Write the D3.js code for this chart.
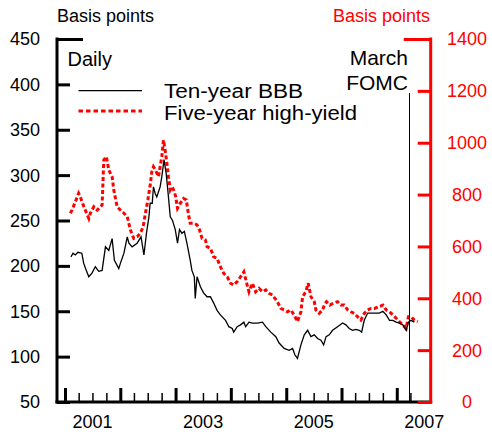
<!DOCTYPE html>
<html>
<head>
<meta charset="utf-8">
<script src="https://cdn.jsdelivr.net/npm/d3@7"></script>
<style>
  html, body { margin: 0; padding: 0; background: #fff; }
  svg { display: block; font-family: "Liberation Sans", Arial, sans-serif; }
</style>
</head>
<body>
<svg id="chart" width="492" height="434"></svg>
<script>
// ---- Data ----
const leftTicks = [50, 100, 150, 200, 250, 300, 350, 400, 450];
const rightTicks = [0, 200, 400, 600, 800, 1000, 1200, 1400];
const yearLabels = [2001, 2003, 2005, 2007];
const legendLabels = ["Ten-year BBB", "Five-year high-yield"];
const fomcDate = "2007-03-23";

// Ten-year BBB spread (left axis, basis points)
const bbbSeries = [
  ["2001-02-09",210],["2001-02-23",214],["2001-03-10",212],["2001-03-27",215],["2001-04-22",214],
  ["2001-05-04",203],["2001-05-19",196],["2001-06-07",188],["2001-06-28",192],["2001-07-20",199],
  ["2001-08-12",194],["2001-09-03",195],["2001-09-25",221],["2001-10-17",217],["2001-11-08",230],
  ["2001-11-23",206],["2001-12-22",197],["2002-01-02",203],["2002-01-25",214],["2002-02-16",232],
  ["2002-02-27",225],["2002-03-20",221],["2002-04-22",225],["2002-05-18",232],["2002-06-06",212],
  ["2002-06-23",236],["2002-07-09",254],["2002-07-17",269],["2002-07-31",269],["2002-08-08",287],
  ["2002-08-19",280],["2002-08-30",276],["2002-09-21",287],["2002-10-02",298],["2002-10-17",317],
  ["2002-10-31",302],["2002-11-15",276],["2002-11-27",254],["2002-12-12",250],["2002-12-30",240],
  ["2003-01-14",225],["2003-01-27",240],["2003-02-12",236],["2003-02-28",238],["2003-03-17",225],
  ["2003-04-08",206],["2003-04-19",195],["2003-05-05",188],["2003-05-11",164],["2003-05-23",188],
  ["2003-06-14",177],["2003-07-06",170],["2003-07-28",166],["2003-08-19",166],["2003-09-10",159],
  ["2003-10-02",151],["2003-10-24",146],["2003-11-27",140],["2003-12-19",133],["2004-01-10",131],
  ["2004-01-20",127],["2004-02-12",133],["2004-03-05",135],["2004-03-27",138],["2004-04-08",133],
  ["2004-04-30",138],["2004-05-22",137],["2004-06-25",137],["2004-07-28",138],["2004-08-19",133],
  ["2004-09-21",127],["2004-10-24",122],["2004-11-15",115],["2004-12-18",109],["2005-01-20",107],
  ["2005-02-12",109],["2005-02-27",102],["2005-03-16",98],["2005-04-08",113],["2005-04-30",124],
  ["2005-05-22",129],["2005-06-13",122],["2005-07-05",124],["2005-07-27",120],["2005-08-18",118],
  ["2005-09-05",113],["2005-09-21",122],["2005-10-12",124],["2005-11-03",129],["2005-12-06",133],
  ["2006-01-08",137],["2006-01-30",135],["2006-02-21",131],["2006-03-15",129],["2006-04-06",130],
  ["2006-04-28",129],["2006-05-14",127],["2006-05-31",140],["2006-06-23",148],["2006-07-15",148],
  ["2006-08-06",148],["2006-09-08",148],["2006-10-01",150],["2006-10-23",146],["2006-11-14",140],
  ["2006-12-06",140],["2006-12-28",138],["2007-01-18",137],["2007-02-10",135],["2007-03-04",129],
  ["2007-03-19",138],["2007-04-05",140],["2007-04-27",138]
];

// Five-year high-yield spread (right axis, basis points)
const hySeries = [
  ["2001-02-05",728],["2001-02-16",740],["2001-03-10",772],["2001-04-01",805],["2001-04-12",792],
  ["2001-04-23",772],["2001-05-15",740],["2001-06-07",708],["2001-06-17",728],["2001-07-10",753],
  ["2001-08-01",740],["2001-08-23",753],["2001-09-03",760],["2001-09-14",933],["2001-10-01",946],
  ["2001-10-17",895],["2001-11-08",869],["2001-11-19",818],["2001-12-11",753],["2002-01-02",740],
  ["2002-01-25",728],["2002-02-16",715],["2002-03-09",663],["2002-03-31",631],["2002-04-22",637],
  ["2002-05-14",651],["2002-06-01",676],["2002-06-16",728],["2002-07-02",779],["2002-07-19",843],
  ["2002-07-28",888],["2002-08-08",907],["2002-08-21",895],["2002-09-10",869],["2002-09-21",907],
  ["2002-10-02",946],["2002-10-13",1010],["2002-10-24",972],["2002-11-05",920],["2002-11-15",869],
  ["2002-11-27",818],["2002-12-08",830],["2002-12-19",818],["2003-01-02",792],["2003-01-14",747],
  ["2003-02-01",766],["2003-02-23",785],["2003-03-13",779],["2003-03-28",721],["2003-04-08",689],
  ["2003-04-30",689],["2003-05-23",683],["2003-06-09",663],["2003-06-25",631],["2003-07-17",625],
  ["2003-07-28",599],["2003-08-19",593],["2003-09-10",560],["2003-10-02",554],["2003-10-24",522],
  ["2003-11-15",496],["2003-12-08",483],["2003-12-30",458],["2004-01-20",451],["2004-02-12",464],
  ["2004-03-05",483],["2004-03-27",502],["2004-04-15",458],["2004-04-30",425],["2004-05-22",458],
  ["2004-06-13",425],["2004-07-05",438],["2004-07-28",425],["2004-08-19",432],["2004-09-09",419],
  ["2004-10-01",413],["2004-11-03",387],["2004-11-26",361],["2004-12-18",355],["2005-01-09",348],
  ["2005-01-31",355],["2005-02-22",336],["2005-03-16",310],["2005-04-08",348],["2005-04-19",406],
  ["2005-05-10",425],["2005-05-26",458],["2005-06-13",406],["2005-07-05",387],["2005-07-16",355],
  ["2005-08-07",342],["2005-08-29",355],["2005-09-12",378],["2005-09-24",387],["2005-10-16",374],
  ["2005-11-07",381],["2005-12-06",387],["2005-12-28",374],["2006-01-19",374],["2006-02-11",355],
  ["2006-03-04",348],["2006-03-26",342],["2006-04-17",329],["2006-05-09",316],["2006-05-31",342],
  ["2006-06-23",355],["2006-07-15",361],["2006-08-06",361],["2006-09-08",368],["2006-10-01",374],
  ["2006-10-23",355],["2006-11-14",348],["2006-12-06",336],["2006-12-28",323],["2007-01-18",310],
  ["2007-02-10",297],["2007-03-04",284],["2007-03-19",329],["2007-04-05",329],["2007-04-27",316],
  ["2007-05-20",310]
];

// ---- Layout ----
const parse = d3.timeParse("%Y-%m-%d");
const svg = d3.select("#chart");
const X0 = 57, X1 = 430.7, Y0 = 402, Y1 = 39;

const x = d3.scaleTime()
  .domain([parse("2000-11-09"), parse("2007-08-13")])
  .range([X0, X1]);
const yL = d3.scaleLinear().domain([50, 450]).range([Y0, Y1]);
const yR = d3.scaleLinear().domain([0, 1400]).range([Y0, Y1]);

// ---- Lines ----
const bbb = bbbSeries.map(d => ({ date: parse(d[0]), v: d[1] }));
const hy = hySeries.map(d => ({ date: parse(d[0]), v: d[1] }));

svg.append("path")
  .datum(hy)
  .attr("fill", "none")
  .attr("stroke", "#ff0000")
  .attr("stroke-width", 3)
  .attr("stroke-dasharray", "4,2.5")
  .attr("d", d3.line().x(d => x(d.date)).y(d => yR(d.v)));

svg.append("path")
  .datum(bbb)
  .attr("fill", "none")
  .attr("stroke", "#000")
  .attr("stroke-width", 1.3)
  .attr("d", d3.line().x(d => x(d.date)).y(d => yL(d.v)));

// FOMC vertical line (snapped to a crisp pixel)
const fx = Math.floor(x(parse(fomcDate))) + 0.5;
svg.append("line")
  .attr("x1", fx).attr("x2", fx)
  .attr("y1", 93).attr("y2", Y0)
  .attr("stroke", "#000").attr("stroke-width", 1);

// ---- Bottom axis with quarterly ticks ----
const quarters = d3.timeMonth.every(3).range(parse("2001-01-01"), parse("2007-05-01"));
const xAxis = d3.axisBottom(x)
  .tickValues(quarters)
  .tickSize(0)
  .tickFormat("");
const gx = svg.append("g").attr("transform", `translate(0,${Y0})`).call(xAxis);
gx.select(".domain").remove();
gx.selectAll(".tick line")
  .attr("y2", d => d.getMonth() === 0 ? -14 : -9)
  .attr("stroke", "#000")
  .attr("stroke-width", d => d.getMonth() === 0 ? 3 : 1.5);

svg.append("line")
  .attr("x1", X0 - 1.5).attr("x2", X1 + 1.5)
  .attr("y1", Y0).attr("y2", Y0)
  .attr("stroke", "#000").attr("stroke-width", 3);

// year labels centered mid-year
svg.append("g").selectAll("text")
  .data(yearLabels)
  .join("text")
  .attr("x", d => x(new Date(d, 6, 2)))
  .attr("y", 428)
  .attr("text-anchor", "middle")
  .attr("font-size", 18)
  .attr("fill", "#000")
  .text(d => d);

// ---- Left axis ----
const gl = svg.append("g").attr("transform", `translate(${X0},0)`)
  .call(d3.axisLeft(yL).tickValues(leftTicks).tickSize(0).tickFormat(""));
gl.select(".domain").remove();
gl.selectAll(".tick line")
  .attr("x2", d => d === 450 ? 26 : 13)
  .attr("stroke", "#000").attr("stroke-width", 3);
svg.append("line")
  .attr("x1", X0).attr("x2", X0).attr("y1", Y1 - 1.5).attr("y2", Y0 + 1.5)
  .attr("stroke", "#000").attr("stroke-width", 3);
svg.append("g").selectAll("text")
  .data(leftTicks)
  .join("text")
  .attr("x", 40)
  .attr("y", d => yL(d))
  .attr("dy", "0.36em")
  .attr("text-anchor", "end")
  .attr("font-size", 18)
  .attr("fill", "#000")
  .text(d => d);

// ---- Right axis ----
const gr = svg.append("g").attr("transform", `translate(${X1},0)`)
  .call(d3.axisRight(yR).tickValues(rightTicks).tickSize(0).tickFormat(""));
gr.select(".domain").remove();
gr.selectAll(".tick line")
  .attr("x2", d => d === 1400 ? -27 : -13)
  .attr("stroke", "#ff0000").attr("stroke-width", 3);
svg.append("line")
  .attr("x1", X1).attr("x2", X1).attr("y1", Y1 - 1.5).attr("y2", Y0 + 1.5)
  .attr("stroke", "#ff0000").attr("stroke-width", 3);
svg.append("g").selectAll("text")
  .data(rightTicks)
  .join("text")
  .attr("x", 467)
  .attr("y", d => yR(d))
  .attr("dy", "0.36em")
  .attr("text-anchor", "middle")
  .attr("font-size", 18)
  .attr("fill", "#ff0000")
  .text(d => d);

// ---- Axis titles ----
svg.append("text").attr("x", 57).attr("y", 22)
  .attr("font-size", 18).attr("fill", "#000").text("Basis points");
svg.append("text").attr("x", 430).attr("y", 22)
  .attr("text-anchor", "end")
  .attr("font-size", 18).attr("fill", "#ff0000").text("Basis points");

// ---- Annotations ----
svg.append("text").attr("x", 67.5).attr("y", 66)
  .attr("font-size", 20).attr("fill", "#000").text("Daily");
svg.append("text").attr("x", 408).attr("y", 65)
  .attr("text-anchor", "end").attr("font-size", 21).attr("fill", "#000").text("March");
svg.append("text").attr("x", 408).attr("y", 89.5)
  .attr("text-anchor", "end").attr("font-size", 21).attr("fill", "#000").text("FOMC");

// ---- Legend ----
const legendWidths = [139, 193];
const legend = svg.append("g");
legend.append("line")
  .attr("x1", 78.5).attr("x2", 142).attr("y1", 90.7).attr("y2", 90.7)
  .attr("stroke", "#000").attr("stroke-width", 1.3);
legend.append("line")
  .attr("x1", 78.5).attr("x2", 142).attr("y1", 111).attr("y2", 111)
  .attr("stroke", "#ff0000").attr("stroke-width", 3)
  .attr("stroke-dasharray", "4.5,3");
legend.selectAll("text.lab")
  .data(legendLabels)
  .join("text")
  .attr("class", "lab")
  .attr("x", 164)
  .attr("y", (d, i) => 97.5 + i * 22)
  .attr("font-size", 19.5)
  .attr("textLength", (d, i) => legendWidths[i])
  .attr("lengthAdjust", "spacingAndGlyphs")
  .attr("fill", "#000")
  .text(d => d);
</script>
</body>
</html>
